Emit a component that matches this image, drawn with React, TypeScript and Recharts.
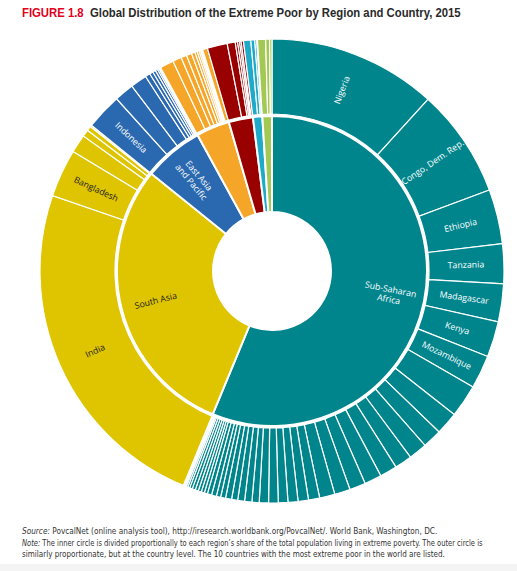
import * as React from "react";
import { PieChart, Pie, Cell } from "recharts";

// millions of extreme poor, 2015
const regionNames = [
  "Sub-Saharan Africa",
  "South Asia",
  "East Asia and Pacific",
  "Latin America and the Caribbean",
  "Middle East and North Africa",
  "Europe and Central Asia",
  "Rest of the world",
];
const regionColors = ["#00858d", "#dfc400", "#2a69b0", "#f5a628", "#990000", "#1eaac8", "#a3c954"];
const regionLabels = ["Sub-Saharan\nAfrica", "South Asia", "East Asia\nand Pacific", "", "", "", ""];

const ssaNamed = ["Nigeria", "Congo, Dem. Rep.", "Ethiopia", "Tanzania", "Madagascar", "Kenya", "Mozambique"];
const ssaValues = [
  86.0, 55.6, 27.8, 20.2, 19.4, 18.2, 17.0,
  16.8, 11.6, 9.8, 9.4, 8.8, 8.8, 8.8, 8.2, 8.0, 7.8,
  5.7, 5.3, 5.1, 4.9, 4.9, 4.7, 3.7, 3.7, 3.5, 3.1, 3.1,
  2.5, 2.2, 2.5, 2.2, 1.6, 1.6, 1.6, 1.6, 1.6, 1.4, 1.0, 0.8, 0.6, 0.4, 0.4, 0.2,
];
const sasNamed = ["India", "Bangladesh"];
const sasValues = [176.0, 24.5, 9.4, 3.5, 2.4, 0.8];
const eapNamed = ["Indonesia"];
const eapValues = [18.4, 10.0, 8.4, 2.5, 1.8, 1.5, 1.2, 0.8, 0.6, 0.4];
const lacValues = [7.0, 4.5, 2.9, 2.7, 1.8, 1.2, 1.0, 0.8, 0.6, 0.5, 2.5];
const mnaValues = [10.2, 4.1, 1.2, 1.0, 0.8, 1.2];
const ecaValues = [3.7, 2.0, 1.0, 0.4];
const rowValues = [4.1, 2.0, 1.2];

const countryValues = [ssaValues, sasValues, eapValues, lacValues, mnaValues, ecaValues, rowValues];
const countryNamed = [ssaNamed, sasNamed, eapNamed, [], [], [], []];

const darkText = ["South Asia", "India", "Bangladesh"];

const innerData = regionNames.map((name, i) => ({
  name,
  label: regionLabels[i],
  value: countryValues[i].reduce((a, b) => a + b, 0),
  color: regionColors[i],
}));

const outerData = countryValues.flatMap((vals, r) =>
  vals.map((v, j) => ({
    name: countryNamed[r][j] || "",
    label: countryNamed[r][j] || "",
    value: v,
    color: regionColors[r],
  }))
);

const RAD = Math.PI / 180;
const font = "'Open Sans', 'DejaVu Sans', sans-serif";

function makeLabel(radius: number) {
  return (props: any) => {
    const { cx, cy, midAngle, payload } = props;
    const text: string = (payload && payload.label) || "";
    if (!text) return null;
    const x = cx + radius * Math.cos(-midAngle * RAD);
    const y = cy + radius * Math.sin(-midAngle * RAD);
    let rot = -midAngle;
    if (midAngle < -90 || midAngle > 90) rot = -midAngle - 180;
    const lines = text.split("\n");
    const fill = darkText.includes(text) ? "#222" : "#fff";
    return (
      <text
        x={x}
        y={y}
        transform={`rotate(${rot} ${x} ${y})`}
        textAnchor="middle"
        fill={fill}
        fontFamily={font}
        fontSize={8.8}
      >
        {lines.map((l, i) => (
          <tspan key={i} x={x} dy={i === 0 ? (lines.length === 1 ? 3 : -2) : 10}>
            {l}
          </tspan>
        ))}
      </text>
    );
  };
}

const noteLine = (scale: number): React.CSSProperties => ({
  whiteSpace: "nowrap",
  display: "block",
  transform: `scaleX(${scale})`,
  transformOrigin: "0 0",
});

export default function App() {
  const narrow = "'Liberation Sans Narrow', 'DejaVu Sans Condensed', 'Liberation Sans', sans-serif";
  return (
    <div style={{ position: "absolute", left: 0, top: 0, width: 517, height: 571, background: "#fff", overflow: "hidden" }}>
      <div
        style={{
          position: "absolute",
          left: 22,
          top: 6,
          fontFamily: "'Liberation Sans', Arial, sans-serif",
          fontWeight: "bold",
          fontSize: 12.5,
          color: "#2a2a2a",
          whiteSpace: "nowrap",
          transform: "scaleX(0.905)",
          transformOrigin: "0 0",
        }}
      >
        <span style={{ color: "#e2001a", marginRight: 7 }}>FIGURE 1.8</span>
        Global Distribution of the Extreme Poor by Region and Country, 2015
      </div>

      <div style={{ position: "absolute", left: 0, top: 0 }}>
        <PieChart width={517} height={520} margin={{ top: 0, right: 0, bottom: 0, left: 0 }}>
          <Pie
            data={innerData}
            dataKey="value"
            nameKey="name"
            cx={272}
            cy={271}
            innerRadius={59}
            outerRadius={155}
            startAngle={90}
            endAngle={-270}
            stroke="#fff"
            strokeWidth={2}
            label={makeLabel(120)}
            labelLine={false}
            isAnimationActive={false}
          >
            {innerData.map((d, i) => (
              <Cell key={i} fill={d.color} />
            ))}
          </Pie>
          <Pie
            data={outerData}
            dataKey="value"
            nameKey="name"
            cx={272}
            cy={271}
            innerRadius={157}
            outerRadius={232}
            startAngle={90}
            endAngle={-270}
            stroke="#fff"
            strokeWidth={1.2}
            label={makeLabel(194)}
            labelLine={false}
            isAnimationActive={false}
          >
            {outerData.map((d, i) => (
              <Cell key={i} fill={d.color} />
            ))}
          </Pie>
        </PieChart>
      </div>

      <div
        style={{
          position: "absolute",
          left: 22,
          top: 526,
          width: 600,
          fontFamily: narrow,
          fontSize: 8.1,
          lineHeight: "11.5px",
          color: "#333",
        }}
      >
        <div style={noteLine(1.01)}>
          <i>Source:</i> PovcalNet (online analysis tool), http://iresearch.worldbank.org/PovcalNet/. World Bank, Washington, DC.
        </div>
        <div style={noteLine(0.925)}>
          <i>Note:</i> The inner circle is divided proportionally to each region’s share of the total population living in extreme poverty. The outer circle is
        </div>
        <div style={noteLine(0.99)}>
          similarly proportionate, but at the country level. The 10 countries with the most extreme poor in the world are listed.
        </div>
      </div>
      <div style={{ position: "absolute", left: 0, top: 564, width: 517, height: 7, background: "#f4f4f4" }} />
    </div>
  );
}
